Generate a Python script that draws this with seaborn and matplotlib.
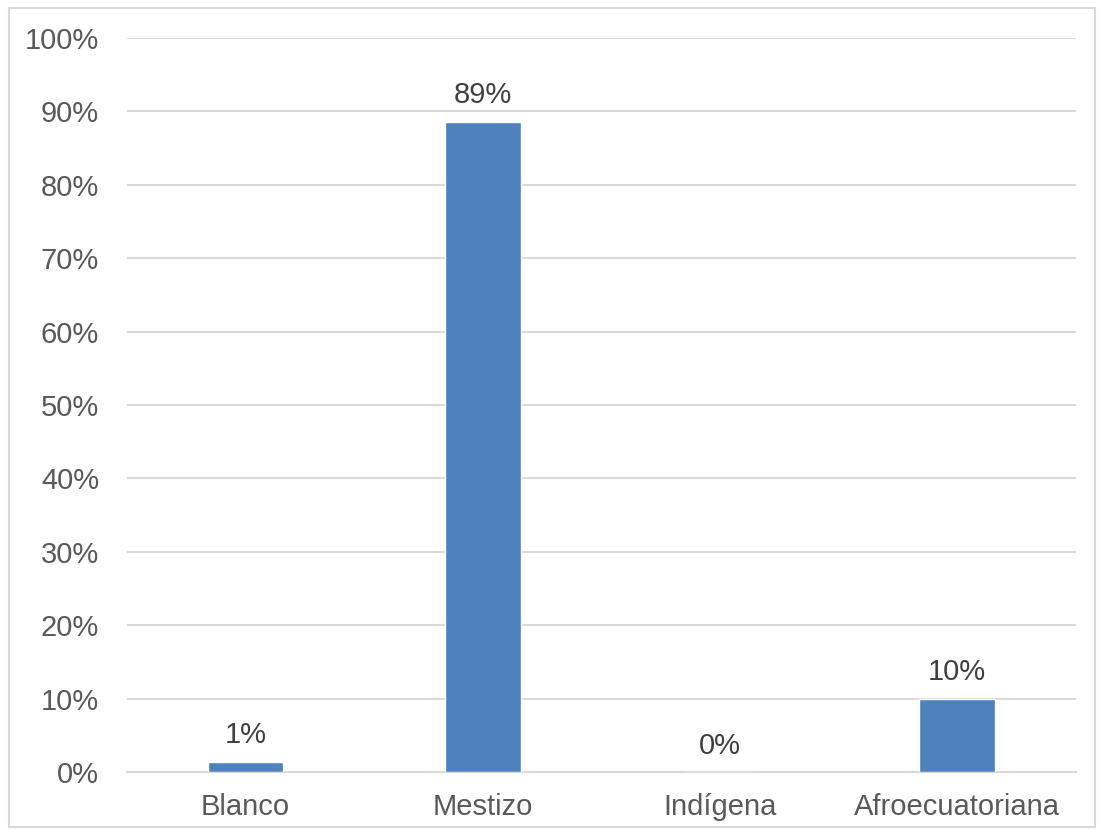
import pandas as pd
import matplotlib.pyplot as plt
import seaborn as sns
from matplotlib.patches import Rectangle
from matplotlib.ticker import PercentFormatter

categories = ["Blanco", "Mestizo", "Indígena", "Afroecuatoriana"]
values = [1.4, 88.6, 0.0, 10.0]
labels = ["1%", "89%", "0%", "10%"]

df = pd.DataFrame({"grupo": categories, "pct": values})

sns.set_style("white")
plt.rcParams["font.family"] = ["Liberation Sans", "DejaVu Sans"]

fig = plt.figure(figsize=(11.01, 8.35), dpi=100)
ax = fig.add_axes([0.1153, 0.0754, 0.8617, 0.8791])

sns.barplot(x="grupo", y="pct", data=df, color="#4F81BD", width=0.32,
            saturation=1, ax=ax, zorder=3)

for i, (v, t) in enumerate(zip(values, labels)):
    ax.text(i, v + 1.7, t, ha="center", va="bottom", fontsize=21, color="#404040")

ax.set_ylim(0, 100)
ax.set_yticks(range(0, 101, 10))
ax.yaxis.set_major_formatter(PercentFormatter(decimals=0))
ax.set_xlim(-0.5, 3.5)
ax.grid(axis="y", color="#D9D9D9", linewidth=1.5, zorder=0)
ax.set_xlabel("")
ax.set_ylabel("")
for s in ["top", "right", "left"]:
    ax.spines[s].set_visible(False)
ax.spines["bottom"].set_color("#D9D9D9")
ax.spines["bottom"].set_linewidth(1.5)
ax.tick_params(axis="both", length=0, labelsize=21, labelcolor="#595959")
ax.tick_params(axis="y", pad=20)
ax.tick_params(axis="x", pad=15)

fig.patches.append(Rectangle((0.008, 0.009), 0.987, 0.982, transform=fig.transFigure,
                             fill=False, edgecolor="#D9D9D9", linewidth=1.5))

fig.savefig("out.png", dpi=100)
